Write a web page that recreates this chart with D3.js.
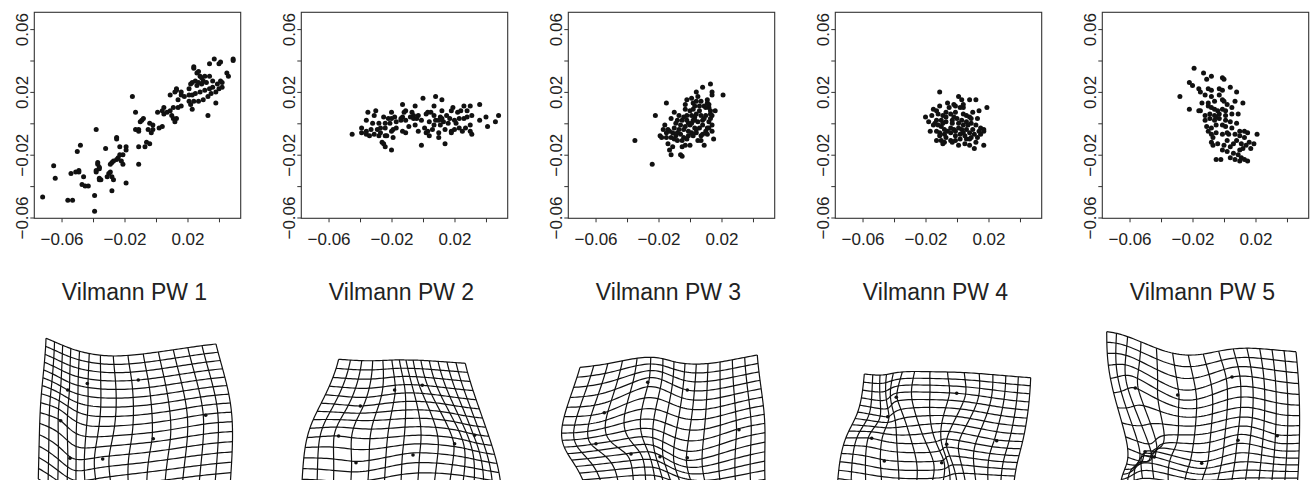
<!DOCTYPE html>
<html>
<head>
<meta charset="utf-8">
<script src="https://cdn.jsdelivr.net/npm/d3@7"></script>
<style>
  body { margin: 0; background: #fff; }
  svg { display: block; }
  text { font-family: "Liberation Sans", Arial, Helvetica, sans-serif; fill: #222; }
</style>
</head>
<body>
<svg id="chart" width="1312" height="480"></svg>
<script>
// partial warp scores, one array per panel, [x, y]
var scoresPW1 = [[0.037,0.041],[0.040,0.038],[0.041,0.039],[0.049,0.041],[0.049,0.040],[0.034,0.038],[0.024,0.036],[0.024,0.035],[0.026,0.032],[0.027,0.033],[0.028,0.030],[0.029,0.029],[0.031,0.030],[0.034,0.030],[0.030,0.027],[0.027,0.026],[0.025,0.027],[0.023,0.026],[0.022,0.025],[0.021,0.022],[0.026,0.024],[0.029,0.025],[0.032,0.026],[0.036,0.027],[0.041,0.027],[0.042,0.026],[0.039,0.025],[0.036,0.023],[0.034,0.022],[0.031,0.021],[0.028,0.020],[0.025,0.019],[0.023,0.018],[0.021,0.018],[0.018,0.017],[0.016,0.018],[0.014,0.015],[0.012,0.020],[0.013,0.022],[0.013,0.021],[0.016,0.020],[0.021,0.014],[0.022,0.012],[0.024,0.014],[0.027,0.014],[0.030,0.015],[0.033,0.017],[0.035,0.019],[0.038,0.020],[0.040,0.022],[0.042,0.023],[0.045,0.032],[0.046,0.030],[0.038,0.013],[0.033,0.005],[0.023,0.009],[0.016,0.011],[0.014,0.010],[0.011,0.010],[0.009,0.018],[0.009,0.008],[0.010,0.005],[0.011,0.003],[0.013,0.003],[0.012,0.001],[0.005,0.010],[0.004,0.008],[0.005,0.006],[0.007,0.007],[0.001,0.007],[0.002,-0.003],[0.004,-0.002],[-0.002,-0.001],[-0.002,-0.004],[-0.004,0.000],[-0.003,-0.006],[-0.005,-0.004],[-0.008,0.003],[-0.009,0.002],[-0.010,0.001],[-0.011,-0.004],[-0.013,-0.004],[-0.015,0.017],[-0.013,0.007],[-0.011,-0.005],[-0.006,-0.012],[-0.004,-0.013],[-0.007,-0.015],[-0.011,-0.015],[-0.011,-0.026],[-0.019,-0.015],[-0.019,-0.017],[-0.021,-0.020],[-0.023,-0.020],[-0.024,-0.022],[-0.025,-0.023],[-0.025,-0.009],[-0.025,-0.010],[-0.023,-0.015],[-0.022,-0.024],[-0.021,-0.026],[-0.027,-0.024],[-0.028,-0.025],[-0.029,-0.026],[-0.029,-0.031],[-0.030,-0.032],[-0.028,-0.034],[-0.031,-0.034],[-0.027,-0.036],[-0.019,-0.038],[-0.032,-0.016],[-0.038,-0.004],[-0.037,-0.025],[-0.037,-0.026],[-0.036,-0.028],[-0.036,-0.029],[-0.038,-0.030],[-0.038,-0.031],[-0.036,-0.035],[-0.035,-0.036],[-0.036,-0.036],[-0.028,-0.043],[-0.039,-0.046],[-0.039,-0.056],[-0.043,-0.040],[-0.045,-0.040],[-0.047,-0.039],[-0.046,-0.034],[-0.049,-0.030],[-0.049,-0.031],[-0.051,-0.031],[-0.054,-0.032],[-0.050,-0.018],[-0.048,-0.014],[-0.065,-0.027],[-0.064,-0.035],[-0.072,-0.047],[-0.056,-0.049],[-0.053,-0.049]];

var scoresPW2 = [[0.000,0.016],[0.008,0.017],[0.012,0.015],[-0.013,0.012],[-0.005,0.011],[0.036,0.012],[0.030,0.011],[0.026,0.011],[0.019,0.010],[0.024,0.008],[0.007,0.011],[-0.011,0.008],[-0.030,0.008],[-0.035,0.007],[-0.020,0.007],[-0.012,0.007],[-0.007,0.007],[0.003,0.007],[0.005,0.007],[0.012,0.008],[0.018,0.008],[0.022,0.007],[0.028,0.008],[0.031,0.005],[0.040,0.004],[0.048,0.005],[0.036,0.002],[0.046,0.001],[0.041,-0.002],[0.015,0.005],[0.011,0.004],[0.007,0.005],[0.002,0.006],[-0.003,0.005],[-0.006,0.005],[-0.008,0.004],[-0.013,0.004],[-0.014,0.003],[-0.018,0.004],[-0.020,0.003],[-0.022,0.003],[-0.025,0.004],[-0.031,0.005],[-0.036,0.002],[-0.032,0.000],[-0.028,0.000],[-0.024,0.000],[-0.021,0.000],[-0.017,0.001],[-0.011,0.002],[-0.006,0.003],[-0.001,0.002],[0.004,0.001],[0.008,0.002],[0.013,0.001],[0.017,0.003],[0.020,0.002],[0.023,0.003],[0.026,0.003],[0.028,0.004],[0.030,-0.001],[0.027,-0.003],[0.023,-0.003],[0.020,-0.004],[0.018,-0.005],[0.014,-0.004],[0.011,-0.001],[0.007,-0.001],[0.006,-0.004],[0.001,-0.003],[-0.005,-0.001],[-0.009,-0.002],[-0.011,-0.006],[-0.017,-0.003],[-0.019,-0.004],[-0.024,-0.003],[-0.027,-0.003],[-0.029,-0.004],[-0.033,-0.004],[-0.036,-0.005],[-0.039,-0.003],[-0.039,-0.006],[-0.036,-0.007],[-0.031,-0.007],[-0.028,-0.008],[-0.024,-0.008],[-0.023,-0.008],[-0.019,-0.009],[-0.026,-0.012],[-0.025,-0.013],[-0.024,-0.015],[-0.020,-0.017],[-0.001,-0.014],[0.004,-0.008],[0.010,-0.009],[0.014,-0.013],[0.018,-0.006],[0.025,-0.005],[0.031,-0.007],[0.030,-0.005],[-0.045,-0.007],[-0.034,-0.008],[-0.027,-0.006],[-0.020,-0.005],[-0.014,0.002],[-0.004,0.003],[0.012,0.003],[0.016,0.000],[0.021,0.000],[0.010,-0.006],[0.002,-0.006],[-0.013,-0.005],[0.003,-0.005],[-0.003,-0.005],[0.010,0.002]];

var scoresPW3 = [[0.013,0.025],[0.008,0.023],[0.004,0.020],[0.014,0.020],[0.014,0.018],[0.021,0.018],[-0.002,0.015],[0.001,0.016],[0.004,0.014],[0.007,0.014],[0.011,0.013],[0.012,0.012],[-0.015,0.013],[0.003,0.011],[0.006,0.011],[0.009,0.011],[0.012,0.010],[0.013,0.008],[0.002,0.009],[0.000,0.008],[-0.003,0.009],[-0.002,0.005],[0.001,0.005],[0.004,0.006],[0.007,0.005],[0.010,0.005],[0.013,0.006],[0.014,0.005],[-0.010,0.007],[-0.022,0.005],[-0.012,0.003],[-0.008,0.002],[-0.005,0.002],[-0.002,0.002],[0.002,0.002],[0.005,0.001],[0.008,0.002],[0.012,0.001],[0.014,-0.001],[-0.016,-0.001],[-0.014,-0.004],[-0.017,-0.004],[-0.010,-0.003],[-0.006,-0.001],[-0.003,-0.002],[0.000,-0.001],[0.003,-0.003],[0.006,-0.003],[0.010,-0.005],[0.014,-0.005],[-0.019,-0.008],[-0.018,-0.009],[-0.015,-0.009],[-0.012,-0.009],[-0.009,-0.008],[-0.006,-0.007],[-0.004,-0.009],[-0.001,-0.008],[0.001,-0.006],[0.004,-0.006],[0.007,-0.008],[0.011,-0.007],[0.015,-0.010],[-0.008,-0.011],[-0.005,-0.011],[-0.003,-0.014],[0.000,-0.014],[-0.014,-0.013],[-0.011,-0.015],[-0.013,-0.017],[-0.012,-0.020],[-0.006,-0.020],[-0.005,-0.021],[0.009,-0.014],[-0.035,-0.011],[-0.024,-0.026],[-0.004,-0.004],[-0.001,-0.005],[0.002,-0.008],[0.005,-0.011],[-0.011,-0.006],[-0.015,-0.006],[0.003,0.004],[-0.003,0.012],[-0.007,0.005],[0.008,-0.001],[0.011,-0.003],[-0.008,-0.006],[-0.004,0.004],[0.001,0.000],[0.006,0.008],[0.009,0.003],[-0.001,0.000],[0.004,-0.004],[-0.007,-0.004],[0.010,0.010],[0.002,0.013],[0.016,0.008],[-0.010,-0.010],[0.007,-0.011],[0.012,-0.003],[-0.002,-0.010],[0.003,0.002],[0.011,0.015],[0.005,0.017],[-0.013,-0.005],[-0.009,0.000],[0.013,0.003],[0.008,-0.007],[-0.005,-0.015]];

var scoresPW4 = [[-0.011,0.020],[0.001,0.017],[0.003,0.015],[0.008,0.015],[0.012,0.015],[0.019,0.010],[0.014,0.008],[-0.006,0.013],[-0.002,0.012],[-0.001,0.011],[0.004,0.010],[0.002,0.010],[-0.011,0.011],[-0.015,0.009],[-0.013,0.008],[-0.020,0.004],[-0.018,0.001],[-0.017,-0.005],[-0.012,0.006],[-0.009,0.005],[-0.007,0.007],[-0.004,0.006],[-0.001,0.007],[0.004,0.006],[0.006,0.005],[0.008,0.004],[0.009,0.003],[0.013,0.003],[-0.013,0.002],[-0.010,0.002],[-0.007,0.001],[-0.003,0.002],[0.000,0.003],[0.003,0.002],[0.006,0.001],[0.009,0.000],[0.012,-0.001],[0.015,-0.003],[0.017,-0.004],[0.017,-0.005],[0.014,-0.005],[0.010,-0.004],[-0.012,-0.001],[-0.010,-0.002],[-0.008,-0.004],[-0.004,-0.003],[-0.002,-0.004],[0.001,-0.003],[0.003,-0.004],[0.006,-0.004],[0.008,-0.006],[0.011,-0.007],[0.015,-0.007],[-0.013,-0.005],[-0.011,-0.006],[-0.008,-0.007],[-0.004,-0.006],[-0.001,-0.008],[0.002,-0.007],[0.005,-0.008],[-0.011,-0.008],[-0.013,-0.011],[-0.010,-0.011],[-0.007,-0.009],[-0.004,-0.011],[-0.001,-0.011],[0.002,-0.010],[0.006,-0.010],[0.008,-0.010],[0.009,-0.009],[0.001,-0.014],[0.005,-0.013],[0.008,-0.014],[0.011,-0.016],[0.017,-0.014],[-0.003,-0.012],[-0.008,-0.012],[-0.014,0.000],[-0.016,0.005],[-0.007,0.004],[-0.002,0.004],[0.001,0.000],[0.004,-0.001],[-0.009,0.000],[-0.015,-0.001],[0.013,-0.009],[-0.006,-0.005],[-0.001,-0.005],[0.004,-0.006],[0.007,-0.001],[-0.003,0.000],[0.010,0.007],[-0.005,0.010],[0.004,0.012],[-0.009,-0.013],[0.012,-0.012]];

var scoresPW5 = [[-0.019,0.035],[-0.013,0.032],[-0.008,0.030],[-0.011,0.028],[-0.001,0.029],[0.000,0.028],[-0.022,0.026],[-0.020,0.024],[-0.016,0.022],[-0.010,0.022],[-0.008,0.021],[-0.003,0.022],[-0.001,0.021],[0.004,0.023],[0.008,0.020],[-0.028,0.017],[-0.015,0.020],[-0.012,0.018],[-0.008,0.017],[-0.003,0.018],[-0.001,0.015],[0.000,0.014],[0.007,0.014],[0.012,0.013],[-0.022,0.009],[-0.016,0.008],[-0.015,0.008],[-0.010,0.011],[-0.008,0.010],[-0.006,0.009],[-0.004,0.008],[-0.001,0.009],[0.001,0.008],[-0.012,0.005],[-0.009,0.006],[-0.006,0.005],[-0.003,0.006],[0.001,0.005],[0.005,0.006],[0.009,0.006],[-0.012,0.002],[-0.009,0.003],[-0.006,0.002],[-0.003,0.003],[0.001,0.002],[0.004,0.001],[0.008,0.000],[-0.011,-0.002],[-0.008,-0.003],[-0.005,-0.001],[-0.001,-0.001],[0.001,-0.002],[0.005,-0.003],[0.010,-0.005],[0.013,-0.005],[0.015,-0.006],[0.021,-0.007],[-0.010,-0.005],[-0.008,-0.007],[-0.005,-0.006],[-0.001,-0.007],[0.003,-0.007],[0.007,-0.007],[0.010,-0.008],[0.013,-0.009],[0.016,-0.012],[0.019,-0.013],[-0.008,-0.012],[-0.007,-0.014],[-0.004,-0.013],[0.000,-0.014],[0.004,-0.015],[0.008,-0.011],[0.011,-0.013],[0.014,-0.014],[0.017,-0.016],[-0.001,-0.017],[0.002,-0.018],[0.006,-0.019],[0.009,-0.020],[0.011,-0.022],[0.013,-0.023],[0.015,-0.024],[0.007,-0.023],[0.010,-0.024],[-0.002,-0.023],[-0.005,-0.023],[0.010,-0.017],[-0.007,-0.009],[0.002,-0.011],[0.006,-0.013],[-0.010,0.013],[0.002,0.012],[0.005,0.010],[-0.006,0.014],[-0.014,0.013],[-0.005,0.004],[0.002,-0.006],[0.012,-0.016],[0.004,-0.022]];

var allScores = [scoresPW1, scoresPW2, scoresPW3, scoresPW4, scoresPW5];
var panelTitles = ["Vilmann PW 1", "Vilmann PW 2", "Vilmann PW 3", "Vilmann PW 4", "Vilmann PW 5"];

var xDomain = [-0.0773, 0.0538];
var yDomain = [-0.0605, 0.0707];
var xTickValues = [-0.06, -0.04, -0.02, 0, 0.02, 0.04];
var xLabelValues = [-0.06, -0.02, 0.02];
var yTickValues = [-0.06, -0.04, -0.02, 0, 0.02, 0.04, 0.06];
var yLabelValues = [-0.06, -0.02, 0.02, 0.06];

// landmark configurations (shape coordinates) for the deformation grids
var consensus = [[-0.28,0.355],[0.19,0.405],[-0.57,0.225],[-0.64,-0.135],[0.70,-0.055],[0.28,-0.195],[-0.51,-0.325],[-0.05,-0.335]];
var gridFrame = [[-0.95,0.675],[0,0.675],[0.95,0.675],[-0.95,-0.675],[0.95,-0.675]];  // TL, TM, TR, BL, BR

var landmarksPW1 = [[-0.47,0.42],[0.04,0.455],[-0.666,0.355],[-0.736,0.048],[0.714,0.102],[0.19,-0.132],[-0.643,-0.328],[-0.316,-0.335]];
var landmarksPW2 = [[-0.067,0.355],[0.21,0.402],[-0.41,0.195],[-0.627,-0.105],[0.733,-0.098],[0.533,-0.182],[-0.453,-0.372],[0.117,-0.295]];
var landmarksPW3 = [[-0.206,0.432],[0.19,0.355],[-0.64,0.128],[-0.723,-0.182],[0.707,-0.042],[0.19,-0.322],[-0.373,-0.285],[-0.083,-0.312]];
var landmarksPW4 = [[-0.39,0.282],[0.214,0.322],[-0.476,0.088],[-0.636,-0.128],[0.614,-0.152],[0.114,-0.188],[-0.51,-0.355],[0.064,-0.372]];
var landmarksPW5 = [[-0.246,0.305],[0.297,0.485],[-0.67,0.375],[-0.48,-0.315],[0.75,-0.102],[0.357,-0.148],[-0.573,-0.262],[-0.006,-0.378]];

var framePW1 = [[-0.883,0.872],[-0.21,0.695],[0.817,0.815],[-0.96,-0.535],[0.96,-0.575]];
var framePW2 = [[-0.627,0.662],[0.047,0.655],[0.64,0.622],[-1.0,-0.745],[1.01,-0.745]];
var framePW3 = [[-0.883,0.582],[0.057,0.638],[0.89,0.705],[-0.83,-0.615],[0.97,-0.625]];
var framePW4 = [[-0.71,0.515],[-0.053,0.538],[0.954,0.478],[-0.98,-0.615],[0.78,-0.645]];
var framePW5 = [[-0.956,0.938],[0.01,0.715],[0.937,0.738],[-0.82,-0.595],[0.95,-0.595]];

var allLandmarks = [landmarksPW1, landmarksPW2, landmarksPW3, landmarksPW4, landmarksPW5];
var allFrames = [framePW1, framePW2, framePW3, framePW4, framePW5];
var gridCols = 15, gridRows = 16;

// ---- layout
var panelLeft0 = 34.3, panelStep = 267, panelSize = 206.4;
var boxTop = 12.3, boxBottom = 218.3;

var svg = d3.select("#chart");
var fmt = d3.format(".2f");

// thin plate spline helpers
function tpsU(r2) {
    return r2 === 0 ? 0 : r2 * Math.log(r2);
}

function solve(A, b) {
    var n = b.length;
    A = A.map(function(r) { return r.slice(); });
    b = b.slice();
    for (var c = 0; c < n; c++) {
        var p = c;
        for (var r = c + 1; r < n; r++) if (Math.abs(A[r][c]) > Math.abs(A[p][c])) p = r;
        var t = A[c]; A[c] = A[p]; A[p] = t;
        var tb = b[c]; b[c] = b[p]; b[p] = tb;
        for (var r2 = c + 1; r2 < n; r2++) {
            var f = A[r2][c] / A[c][c];
            for (var k = c; k < n; k++) A[r2][k] -= f * A[c][k];
            b[r2] -= f * b[c];
        }
    }
    var x = new Array(n).fill(0);
    for (var i = n - 1; i >= 0; i--) {
        var s = b[i];
        for (var j = i + 1; j < n; j++) s -= A[i][j] * x[j];
        x[i] = s / A[i][i];
    }
    return x;
}

function tpsWarp(src, dst) {
    var n = src.length, m = n + 3;
    var L = [];
    for (var i = 0; i < m; i++) L.push(new Array(m).fill(0));
    for (var i = 0; i < n; i++) {
        for (var j = 0; j < n; j++) {
            var dx = src[i][0] - src[j][0], dy = src[i][1] - src[j][1];
            L[i][j] = tpsU(dx * dx + dy * dy);
        }
        L[i][n] = 1; L[i][n + 1] = src[i][0]; L[i][n + 2] = src[i][1];
        L[n][i] = 1; L[n + 1][i] = src[i][0]; L[n + 2][i] = src[i][1];
    }
    var bx = dst.map(function(d) { return d[0]; }).concat([0, 0, 0]);
    var by = dst.map(function(d) { return d[1]; }).concat([0, 0, 0]);
    var cx = solve(L, bx), cy = solve(L, by);
    return function(p) {
        var x = cx[n] + cx[n + 1] * p[0] + cx[n + 2] * p[1];
        var y = cy[n] + cy[n + 1] * p[0] + cy[n + 2] * p[1];
        for (var i = 0; i < n; i++) {
            var dx = p[0] - src[i][0], dy = p[1] - src[i][1];
            var u = tpsU(dx * dx + dy * dy);
            x += cx[i] * u;
            y += cy[i] * u;
        }
        return [x, y];
    };
}

allScores.forEach(function(scores, i) {
    var left = panelLeft0 + panelStep * i;
    var x = d3.scaleLinear().domain(xDomain).range([left, left + panelSize]);
    var y = d3.scaleLinear().domain(yDomain).range([boxBottom, boxTop]);
    var g = svg.append("g");

    // points
    g.append("g").selectAll("circle").data(scores).enter().append("circle")
        .attr("cx", function(d) { return x(d[0]); })
        .attr("cy", function(d) { return y(d[1]); })
        .attr("r", 2.5)
        .attr("fill", "#111");

    // box
    g.append("rect")
        .attr("x", left).attr("y", boxTop)
        .attr("width", panelSize).attr("height", boxBottom - boxTop)
        .attr("fill", "none").attr("stroke", "#333").attr("stroke-width", 1.1);

    // x axis
    var xa = g.append("g").attr("transform", "translate(0," + boxBottom + ")")
        .call(d3.axisBottom(x).tickValues(xTickValues).tickSize(4).tickPadding(11)
            .tickFormat(function(d) { return xLabelValues.some(function(v) { return Math.abs(v - d) < 1e-9; }) ? fmt(d) : ""; }));
    xa.select(".domain").remove();
    xa.selectAll("line").attr("stroke", "#333");
    xa.selectAll("text").attr("font-size", 17).attr("fill", "#222")
        .style("font-family", "'Liberation Sans', Arial, sans-serif");

    // y axis
    var ya = g.append("g").attr("transform", "translate(" + left + ",0)")
        .call(d3.axisLeft(y).tickValues(yTickValues).tickSize(4)
            .tickFormat(function(d) { return yLabelValues.some(function(v) { return Math.abs(v - d) < 1e-9; }) ? fmt(d) : ""; }));
    ya.select(".domain").remove();
    ya.selectAll("line").attr("stroke", "#333");
    ya.selectAll("text")
        .attr("transform", "rotate(-90)")
        .attr("x", 0).attr("y", -6).attr("dy", 0)
        .style("text-anchor", "middle")
        .attr("font-size", 17).attr("fill", "#222")
        .style("font-family", "'Liberation Sans', Arial, sans-serif");

    // title
    g.append("text")
        .attr("x", left + panelSize / 2 - 3)
        .attr("y", 300)
        .attr("text-anchor", "middle")
        .attr("font-size", 23)
        .text(panelTitles[i]);

    // deformation grid
    var gx = d3.scaleLinear().domain([-1, 1]).range([left, left + 200]);
    var gy = d3.scaleLinear().domain([-1, 1]).range([525.5, 325.5]);
    var src = consensus.concat(gridFrame);
    var dst = allLandmarks[i].concat(allFrames[i]);
    var warp = tpsWarp(src, dst);
    var u0 = gridFrame[0][0], u1 = gridFrame[2][0], v0 = gridFrame[3][1], v1 = gridFrame[0][1];
    var lines = [];
    var steps = 80;
    d3.range(gridCols).forEach(function(c) {
        var u = u0 + (u1 - u0) * c / (gridCols - 1);
        lines.push(d3.range(steps + 1).map(function(s) { return warp([u, v1 + (v0 - v1) * s / steps]); }));
    });
    d3.range(gridRows).forEach(function(r) {
        var v = v1 + (v0 - v1) * r / (gridRows - 1);
        lines.push(d3.range(steps + 1).map(function(s) { return warp([u0 + (u1 - u0) * s / steps, v]); }));
    });
    var line = d3.line().x(function(d) { return gx(d[0]); }).y(function(d) { return gy(d[1]); });
    g.append("g").selectAll("path").data(lines).enter().append("path")
        .attr("d", line)
        .attr("fill", "none")
        .attr("stroke", "#111")
        .attr("stroke-width", 1.2);

    g.append("g").selectAll("circle").data(consensus).enter().append("circle")
        .attr("cx", function(d) { return gx(warp(d)[0]); })
        .attr("cy", function(d) { return gy(warp(d)[1]); })
        .attr("r", 1.8)
        .attr("fill", "#111");
});
</script>
</body>
</html>
